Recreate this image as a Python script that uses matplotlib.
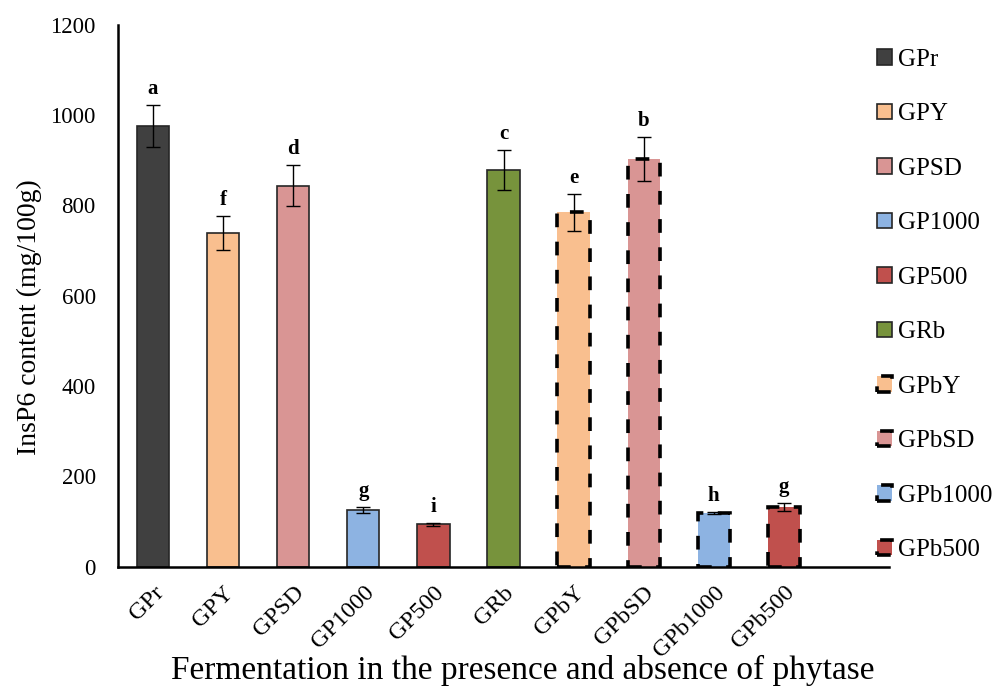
import matplotlib.pyplot as plt

plt.rcParams['font.family'] = 'Liberation Serif'

samples = ['GPr', 'GPY', 'GPSD', 'GP1000', 'GP500', 'GRb', 'GPbY', 'GPbSD', 'GPb1000', 'GPb500']
insp6 = [976, 739, 844, 126, 94, 879, 785, 902, 119, 132]
sd = [47, 37, 45, 6, 4, 44, 41, 49, 3, 9]
letters = ['a', 'f', 'd', 'g', 'i', 'c', 'e', 'b', 'h', 'g']
colors = ['#404040', '#F9BF8F', '#D99594', '#8DB3E2', '#C0504D',
          '#77933C', '#F9BF8F', '#D99594', '#8DB3E2', '#C0504D']
# phytase-treated samples get a dashed outline
dashed = [False] * 6 + [True] * 4

fig = plt.figure(figsize=(10, 6.87), dpi=100)
ax = fig.add_axes([0.118, 0.175, 0.771, 0.789])

for i, (name, v, e, c, d) in enumerate(zip(samples, insp6, sd, colors, dashed)):
    if d:
        ax.bar(i, v, width=0.46, color=c, edgecolor='black', linewidth=2.6,
               linestyle=(0, (3.8, 4.0)), label=name, zorder=2)
    else:
        ax.bar(i, v, width=0.46, color=c, edgecolor='#262626', linewidth=1.2,
               label=name, zorder=2)
    ax.errorbar(i, v, yerr=e, fmt='none', ecolor='black', elinewidth=1,
                capsize=5, capthick=1, zorder=3)
    ax.text(i, v + e + 13, letters[i], ha='center', va='bottom',
            fontsize=15, fontweight='bold')

ax.set_xlim(-0.5, 10.5)
ax.set_ylim(0, 1200)
ax.set_yticks(range(0, 1201, 200))
ax.set_xticks(range(len(samples)))
ax.set_xticklabels(samples, rotation=45, ha='right', rotation_mode='anchor', fontsize=17.5)
ax.tick_params(axis='y', labelsize=16.5, length=0, pad=16)
ax.tick_params(axis='x', length=0, pad=11)
for s in ['top', 'right']:
    ax.spines[s].set_visible(False)
for s in ['left', 'bottom']:
    ax.spines[s].set_linewidth(1.8)

ax.set_ylabel('InsP6 content (mg/100g)', fontsize=20)
ax.yaxis.set_label_coords(-0.099, 0.46)
fig.text(0.523, 0.012, 'Fermentation in the presence and absence of phytase',
         ha='center', va='baseline', fontsize=24)

fig.legend(loc='upper left', bbox_to_anchor=(0.877, 0.929), frameon=False,
           fontsize=18, handlelength=0.6, handleheight=0.6, handletextpad=0.25,
           labelspacing=1.30, borderpad=0, borderaxespad=0)

fig.savefig('out.png', dpi=100)
